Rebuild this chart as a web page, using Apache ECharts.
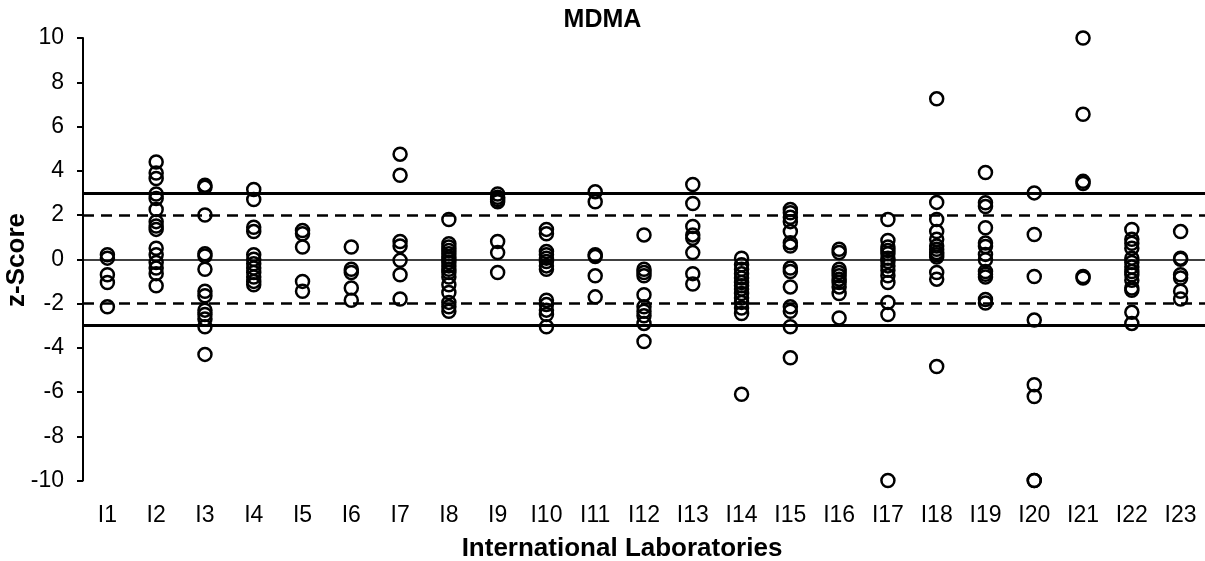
<!DOCTYPE html>
<html>
<head>
<meta charset="utf-8">
<script src="https://cdn.jsdelivr.net/npm/echarts@6/dist/echarts.min.js"></script>
<style>
  html, body { margin: 0; padding: 0; background: #fff; }
  #chart { width: 1205px; height: 561px; }
</style>
</head>
<body>
<div id="chart"></div>
<script>
// Laboratory codes on the category axis
const labs = ['I1','I2','I3','I4','I5','I6','I7','I8','I9','I10','I11','I12',
              'I13','I14','I15','I16','I17','I18','I19','I20','I21','I22','I23'];

// z-scores reported by each laboratory
const zI1  = [0.2, 0.05, -0.7, -1.05, -2.15];
const zI2  = [4.4, 3.9, 3.65, 2.95, 2.75, 2.25, 1.7, 1.5, 1.35, 0.5, 0.2, -0.15, -0.4, -0.65, -1.2];
const zI3  = [3.35, 3.25, 2.0, 0.25, 0.15, -0.45, -1.45, -1.65, -2.3, -2.5, -2.7, -3.05, -4.3];
const zI4  = [3.15, 2.7, 1.45, 1.25, 0.2, 0.0, -0.2, -0.4, -0.6, -0.8, -1.0, -1.15];
const zI5  = [1.3, 1.15, 0.55, -1.0, -1.45];
const zI6  = [0.55, -0.45, -0.6, -1.3, -1.85];
const zI7  = [4.75, 3.8, 0.8, 0.6, -0.05, -0.7, -1.8];
const zI8  = [1.8, 0.7, 0.55, 0.4, 0.25, 0.1, 0.0, -0.15, -0.3, -0.45, -0.6, -0.8, -1.15, -1.5, -1.95, -2.15, -2.35];
const zI9  = [2.95, 2.8, 2.7, 2.6, 0.8, 0.3, -0.6];
const zI10 = [1.35, 1.15, 0.35, 0.2, 0.05, -0.1, -0.3, -0.45, -1.85, -2.05, -2.3, -2.5, -3.05];
const zI11 = [3.05, 2.6, 0.2, 0.12, -0.75, -1.7];
const zI12 = [1.1, -0.45, -0.6, -0.75, -1.6, -2.15, -2.35, -2.55, -2.9, -3.72];
const zI13 = [3.38, 2.52, 1.48, 1.1, 0.95, 0.3, -0.65, -1.12];
const zI14 = [0.05, -0.25, -0.45, -0.65, -0.85, -1.05, -1.2, -1.35, -1.55, -1.75, -1.95, -2.2, -2.45, -6.1];
const zI15 = [2.25, 2.1, 1.9, 1.7, 1.25, 0.75, 0.6, -0.4, -0.55, -1.25, -2.15, -2.35, -3.05, -4.45];
const zI16 = [0.45, 0.3, -0.45, -0.6, -0.75, -0.9, -1.05, -1.25, -1.55, -2.65];
const zI17 = [1.8, 0.85, 0.55, 0.4, 0.25, 0.05, -0.1, -0.3, -0.5, -0.75, -1.05, -1.95, -2.5, -10];
const zI18 = [7.25, 2.57, 1.8, 1.25, 0.9, 0.6, 0.45, 0.3, 0.2, 0.1, -0.6, -0.9, -4.85];
const zI19 = [3.92, 2.55, 2.38, 1.42, 0.73, 0.58, 0.22, -0.02, -0.55, -0.68, -0.8, -1.82, -1.98];
const zI20 = [3.0, 1.12, -0.78, -2.75, -5.67, -6.2, -10, -10];
const zI21 = [10, 6.55, 3.52, 3.42, -0.78, -0.85];
const zI22 = [1.35, 0.9, 0.72, 0.5, 0.05, -0.15, -0.35, -0.55, -0.7, -0.95, -1.3, -1.4, -2.4, -2.9];
const zI23 = [1.25, 0.05, 0.0, -0.7, -0.85, -1.45, -1.8];

// Acceptance limits: |z| <= 2 satisfactory, |z| >= 3 unsatisfactory
const warningLimit = 2;
const actionLimit = 3;

const scoresByLab = [zI1, zI2, zI3, zI4, zI5, zI6, zI7, zI8, zI9, zI10, zI11, zI12,
                     zI13, zI14, zI15, zI16, zI17, zI18, zI19, zI20, zI21, zI22, zI23];

const points = [];
scoresByLab.forEach((scores, i) => {
  scores.forEach(z => points.push([labs[i], z]));
});

const FONT = '"Liberation Sans", Arial, sans-serif';

const chart = echarts.init(document.getElementById('chart'), null, { renderer: 'canvas' });

chart.setOption({
  backgroundColor: '#ffffff',
  animation: false,
  title: {
    text: 'MDMA',
    left: 'center',
    top: 3,
    textStyle: { fontFamily: FONT, fontSize: 25, fontWeight: 'bold', color: '#000' }
  },
  grid: { left: 83, right: 0, top: 38, bottom: 80.5, containLabel: false },
  xAxis: {
    type: 'category',
    data: labs,
    boundaryGap: true,
    axisLine: { show: false },
    axisTick: { show: false },
    splitLine: { show: false },
    axisLabel: { fontFamily: FONT, fontSize: 23, color: '#000', margin: 24, interval: 0 }
  },
  yAxis: {
    type: 'value',
    min: -10,
    max: 10,
    interval: 2,
    axisLine: { show: true, onZero: false, lineStyle: { color: '#000', width: 2 } },
    axisTick: { show: true, inside: false, length: 6, lineStyle: { color: '#000', width: 2 } },
    splitLine: { show: false },
    axisLabel: { fontFamily: FONT, fontSize: 23, color: '#000', margin: 19 }
  },
  graphic: [
    {
      type: 'text',
      x: 17, y: 260,
      rotation: Math.PI / 2,
      style: {
        text: 'z-Score', fontFamily: FONT, fontSize: 26, fontWeight: 'bold',
        fill: '#000', align: 'center', verticalAlign: 'middle'
      }
    },
    {
      type: 'text',
      x: 622, y: 549,
      style: {
        text: 'International Laboratories', fontFamily: FONT, fontSize: 26, fontWeight: 'bold',
        fill: '#000', align: 'center', verticalAlign: 'middle'
      }
    }
  ],
  series: [
    {
      type: 'scatter',
      data: points,
      symbol: 'circle',
      symbolSize: 13,
      clip: false,
      itemStyle: { color: 'rgba(0,0,0,0)', borderColor: '#000', borderWidth: 2.5, opacity: 1 },
      markLine: {
        silent: true,
        symbol: ['none', 'none'],
        label: { show: false },
        animation: false,
        data: [
          { yAxis: 0, lineStyle: { color: '#000', width: 1.5, type: 'solid' } },
          { yAxis: warningLimit, lineStyle: { color: '#000', width: 2.6, type: [11, 7] } },
          { yAxis: -warningLimit, lineStyle: { color: '#000', width: 2.6, type: [11, 7] } },
          { yAxis: actionLimit, lineStyle: { color: '#000', width: 2.8, type: 'solid' } },
          { yAxis: -actionLimit, lineStyle: { color: '#000', width: 2.8, type: 'solid' } }
        ]
      }
    }
  ]
});
</script>
</body>
</html>
